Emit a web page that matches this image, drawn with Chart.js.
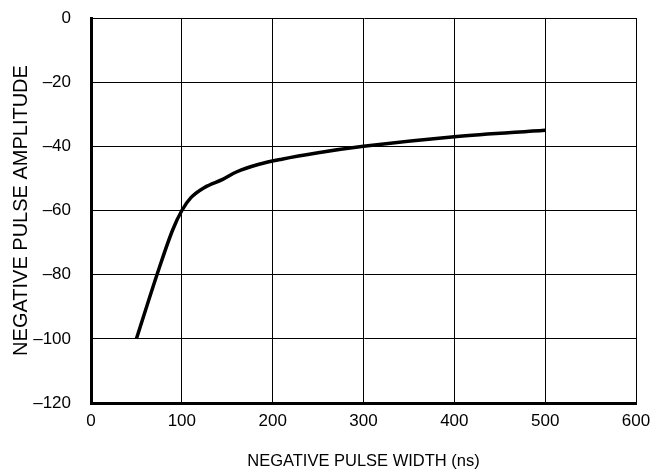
<!DOCTYPE html>
<html>
<head>
<meta charset="utf-8">
<script src="https://cdn.jsdelivr.net/npm/chart.js@4/dist/chart.umd.min.js"></script>
<style>
  html, body { margin: 0; padding: 0; background: #fff; }
</style>
</head>
<body>
<canvas id="chart" width="672" height="471"></canvas>
<script>
// DATA
const widthNs   = [50, 75, 90, 100, 110, 125, 145, 160, 185, 210, 250, 300, 400, 500];
const amplitude = [-100, -78, -66, -60, -56, -52.8, -50.3, -48, -45.6, -44, -42, -40, -37, -35];
const xTicks = [0, 100, 200, 300, 400, 500, 600];
const yTicks = [0, -20, -40, -60, -80, -100, -120];

const points = widthNs.map((x, i) => ({ x, y: amplitude[i] }));
const font = { family: "'Liberation Sans', Arial, sans-serif", size: 17 };

new Chart(document.getElementById("chart"), {
    type: "line",
    data: {
        datasets: [{
            data: points,
            borderColor: "#000",
            borderWidth: 3.5,
            pointRadius: 0,
            cubicInterpolationMode: "monotone",
            fill: false
        }]
    },
    options: {
        responsive: false,
        animation: false,
        layout: { padding: { left: 0, right: 36, top: 18, bottom: 0 } },
        plugins: { legend: { display: false }, tooltip: { enabled: false } },
        scales: {
            x: {
                type: "linear",
                min: 0, max: 600,
                afterBuildTicks: ax => { ax.ticks = xTicks.map(v => ({ value: v })); },
                afterFit: ax => { ax.height = 68; },
                grid: { color: "#000", lineWidth: 1, drawTicks: false },
                border: { color: "#000", width: 3 },
                ticks: { color: "#000", font, padding: 8 },
                title: {
                    display: true,
                    text: "NEGATIVE PULSE WIDTH (ns)",
                    color: "#000",
                    font: { family: font.family, size: 16.5 },
                    padding: { top: 11, bottom: 0 }
                }
            },
            y: {
                type: "linear",
                min: -120, max: 0,
                afterBuildTicks: ax => { ax.ticks = yTicks.map(v => ({ value: v })); },
                afterFit: ax => { ax.width = 91; },
                // invisible tick marks keep the labels clear of the axis
                grid: { color: "#000", lineWidth: 1, drawTicks: true, tickLength: 20, tickColor: "rgba(0,0,0,0)" },
                border: { color: "#000", width: 3 },
                ticks: {
                    color: "#000", font, padding: 0,
                    callback: v => v < 0 ? "\u2013" + Math.abs(v) : String(v)
                },
                title: {
                    display: true,
                    text: "NEGATIVE PULSE AMPLITUDE",
                    color: "#000",
                    font: { family: font.family, size: 20 },
                    padding: { top: 9, bottom: 0 }
                }
            }
        }
    }
});
</script>
</body>
</html>
